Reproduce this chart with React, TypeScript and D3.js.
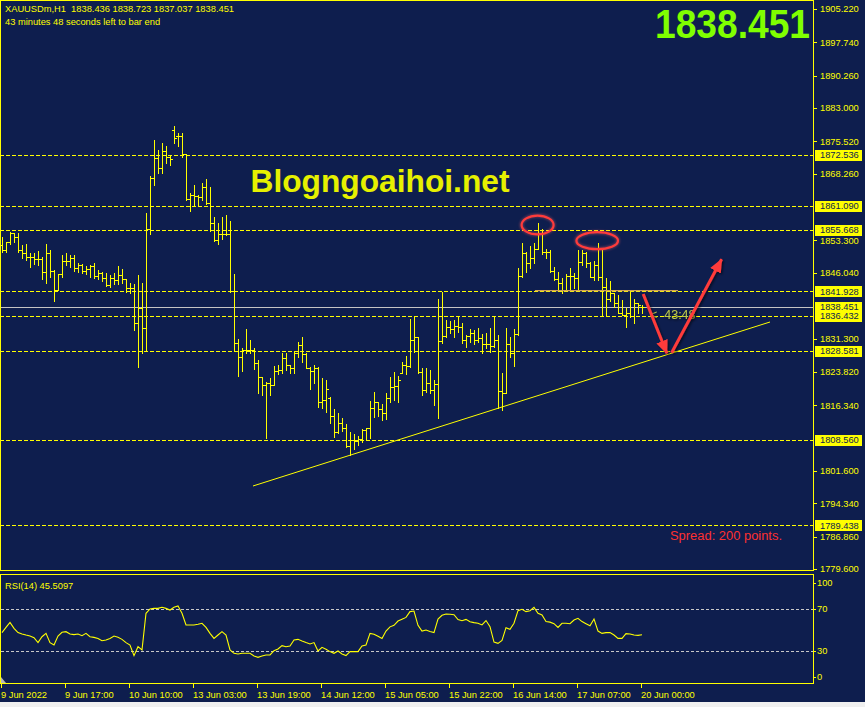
import React from "react";
import * as d3 from "d3";

// ---------- DATA ----------
const opens = [1852.3,1851.16,1852.88,1854.9,1854.0,1851.16,1850.41,1849.66,1849.5,1849.07,1849.07,1846.15,1850.41,1846.52,1842.19,1845.7,1848.69,1848.69,1849.29,1847.05,1847.79,1846.52,1846.82,1847.57,1845.33,1845.92,1844.8,1843.31,1844.8,1844.43,1845.55,1844.58,1842.71,1842.56,1834.71,1838.08,1833.59,1855.8,1867.24,1871.72,1869.63,1873.44,1871.95,1878.08,1876.8,1876.8,1872.62,1862.5,1863.5,1863.27,1863.12,1865.37,1861.63,1857.14,1853.4,1854.75,1854.75,1854.75,1842.04,1830.37,1827.23,1828.73,1828.73,1828.73,1825.74,1822.6,1820.88,1821.25,1820.88,1824.09,1824.24,1826.86,1825.37,1824.62,1827.98,1829.85,1827.83,1824.62,1824.09,1824.62,1817.14,1817.5,1818.0,1813.93,1810.4,1812.3,1811.2,1807.2,1808.55,1808.4,1808.7,1810.8,1811.16,1815.65,1817.14,1815.42,1814.53,1817.89,1820.36,1820.66,1823.6,1825.3,1825.15,1830.98,1831.72,1823.87,1819.76,1821.26,1819.76,1821.1,1830.83,1831.87,1833.97,1833.37,1834.12,1833.97,1830.98,1831.87,1832.62,1830.98,1831.35,1830.08,1830.08,1829.63,1831.0,1819.61,1819.0,1830.08,1827.99,1832.25,1845.33,1850.42,1848.3,1849.3,1851.31,1854.9,1850.79,1850.79,1846.53,1844.58,1843.69,1842.19,1845.33,1845.33,1844.81,1848.55,1850.42,1848.17,1845.18,1847.8,1845.03,1842.79,1840.1,1841.44,1839.2,1836.96,1836.58,1836.96,1836.36,1839.2,1838.436];
const highs = [1854.15,1853.03,1855.12,1854.9,1854.9,1852.28,1852.5,1850.56,1850.41,1850.94,1849.66,1852.5,1851.16,1846.67,1845.78,1850.04,1850.41,1850.04,1850.04,1848.32,1847.94,1847.65,1847.79,1848.17,1846.67,1846.3,1845.92,1845.55,1846.07,1847.65,1846.82,1844.58,1843.68,1843.53,1845.55,1843.83,1859.38,1867.76,1875.83,1873.59,1875.24,1874.49,1872.47,1878.97,1877.33,1877.33,1872.69,1863.87,1865.74,1863.5,1866.11,1867.0,1865.37,1858.64,1857.29,1858.64,1859.01,1857.67,1845.78,1831.12,1829.1,1833.36,1830.97,1829.25,1826.49,1822.6,1821.63,1822.37,1825.14,1825.37,1827.98,1828.13,1825.37,1828.35,1830.6,1831.72,1827.98,1824.99,1825.37,1824.99,1822.37,1822.0,1818.27,1815.42,1814.68,1813.4,1812.14,1810.4,1809.9,1809.4,1810.9,1811.16,1817.37,1819.4,1817.14,1816.62,1819.0,1822.75,1823.87,1822.9,1826.11,1827.39,1835.61,1836.36,1831.72,1824.62,1824.62,1824.25,1822.0,1840.1,1841.82,1835.46,1835.31,1835.46,1836.36,1834.86,1832.1,1833.37,1833.22,1833.6,1832.32,1832.47,1833.6,1836.21,1832.1,1823.5,1833.6,1831.72,1833.37,1847.05,1852.8,1850.79,1852.06,1852.66,1857.3,1855.8,1851.31,1851.16,1847.43,1846.3,1844.81,1845.78,1847.05,1845.93,1851.16,1851.16,1850.6,1848.55,1848.77,1852.81,1851.16,1844.81,1844.28,1841.44,1841.07,1839.95,1838.08,1841.82,1840.1,1839.35,1838.723];
const lows = [1850.79,1850.79,1852.43,1853.03,1850.79,1849.29,1848.91,1847.42,1848.02,1847.79,1844.58,1843.68,1845.17,1839.8,1842.19,1845.17,1847.79,1847.42,1846.52,1846.3,1846.07,1845.78,1845.17,1844.8,1844.58,1844.21,1843.16,1842.93,1843.53,1843.53,1843.83,1841.81,1841.59,1833.21,1824.99,1828.13,1828.73,1854.75,1865.74,1868.51,1868.51,1870.75,1870.23,1875.24,1874.49,1872.1,1862.37,1859.98,1861.03,1861.03,1862.37,1861.48,1855.5,1853.25,1852.5,1853.55,1854.6,1841.81,1828.73,1822.9,1824.09,1827.98,1827.98,1824.39,1819.16,1818.63,1808.92,1818.63,1820.88,1823.35,1823.5,1824.24,1823.65,1823.65,1827.08,1826.11,1824.62,1819.91,1821.25,1815.87,1815.65,1814.9,1812.43,1809.3,1810.2,1810.6,1807.05,1805.2,1806.45,1807.4,1808.17,1808.55,1808.92,1813.78,1813.93,1813.03,1813.18,1817.14,1817.52,1817.14,1823.5,1823.35,1824.99,1828.36,1823.5,1818.64,1819.39,1819.01,1816.4,1813.4,1830.38,1831.57,1832.47,1831.57,1832.85,1830.38,1829.48,1830.6,1830.08,1830.6,1828.13,1829.1,1828.36,1829.48,1815.65,1815.27,1819.0,1827.24,1825.15,1832.1,1845.18,1846.3,1847.05,1848.17,1851.3,1850.27,1849.3,1846.3,1844.43,1842.04,1841.44,1842.19,1842.04,1842.57,1842.19,1847.8,1847.43,1845.03,1844.43,1844.43,1836.58,1836.58,1839.8,1838.45,1836.96,1836.58,1833.82,1836.06,1834.71,1837.11,1837.037];
const closes = [1851.16,1852.88,1854.9,1854.0,1851.16,1850.41,1849.66,1849.5,1849.07,1849.07,1846.15,1850.41,1846.52,1842.19,1845.7,1848.69,1848.69,1849.29,1847.05,1847.79,1846.52,1846.82,1847.57,1845.33,1845.92,1844.8,1843.31,1844.8,1844.43,1845.55,1844.58,1842.71,1842.56,1834.71,1838.08,1833.59,1855.8,1867.24,1871.72,1869.63,1873.44,1871.95,1871.5,1876.21,1876.8,1872.62,1862.5,1863.5,1863.27,1863.12,1865.37,1861.63,1857.14,1853.4,1854.75,1854.75,1854.75,1842.04,1830.37,1827.23,1828.73,1828.73,1828.73,1825.74,1822.6,1820.88,1821.25,1820.88,1824.09,1824.24,1826.86,1825.37,1824.62,1827.98,1829.85,1827.83,1824.62,1824.09,1824.62,1817.14,1817.5,1819.91,1813.93,1810.4,1812.3,1811.2,1807.2,1808.55,1808.4,1808.7,1810.8,1811.16,1815.65,1817.14,1815.42,1814.53,1817.89,1820.36,1820.66,1822.0,1825.3,1825.15,1830.98,1831.72,1823.87,1819.76,1821.26,1819.76,1821.1,1830.83,1831.87,1833.97,1833.37,1834.12,1833.97,1830.98,1831.87,1832.62,1830.98,1831.35,1830.08,1830.08,1829.63,1831.0,1819.61,1819.0,1830.08,1827.99,1832.25,1845.33,1850.42,1848.3,1849.3,1851.31,1854.9,1850.79,1850.79,1846.53,1844.58,1843.69,1842.19,1845.33,1845.33,1844.81,1848.55,1850.42,1848.17,1845.18,1847.8,1845.03,1842.79,1840.1,1841.44,1839.2,1836.96,1836.58,1836.96,1836.36,1839.2,1838.83,1838.451];
const rsiValues = [47.5,52.5,57.3,51.6,47.5,46.2,45.2,44.3,42.7,38.0,43.6,46.8,38.0,35.7,44.3,47.8,48.4,46.2,45.6,46.2,44.6,46.8,43.6,43.0,42.0,39.8,40.5,42.0,44.3,43.0,41.1,38.0,35.7,25.6,34.1,30.95,65.9,70.0,70.6,70.6,71.6,70.6,69.0,71.6,72.9,66.0,54.8,54.8,54.8,55.4,56.4,52.5,46.8,42.0,45.2,48.4,45.2,30.95,27.8,27.1,27.8,27.8,27.8,25.2,24.0,25.2,26.2,26.2,30.3,31.9,35.1,34.1,34.8,40.5,41.1,39.5,38.0,36.7,38.0,30.0,33.5,31.6,29.4,27.8,30.0,27.1,25.6,29.4,29.4,29.4,34.8,35.7,46.8,46.0,44.0,42.0,49.0,53.0,54.5,58.5,60.3,62.0,67.5,68.1,54.5,49.0,50.0,48.5,47.5,60.5,64.0,65.2,65.0,64.6,60.0,58.9,60.1,57.9,57.0,56.5,54.8,59.0,53.2,38.5,37.3,40.0,52.2,50.6,56.4,68.4,69.7,67.5,68.4,71.5,66.0,64.3,58.0,57.5,56.0,52.5,56.4,56.4,56.0,59.5,61.1,58.0,56.0,54.1,60.5,49.0,46.8,47.5,47.5,45.2,42.0,42.0,46.5,46.2,45.2,44.9,45.5097];

const dateLabels = ["9 Jun 2022","9 Jun 17:00","10 Jun 10:00","13 Jun 03:00","13 Jun 19:00","14 Jun 12:00","15 Jun 05:00","15 Jun 22:00","16 Jun 14:00","17 Jun 07:00","20 Jun 00:00"];
const dateLabelBars = [0,16,32,48,64,80,96,112,128,144,160];
const priceTicks = [1905.22,1897.74,1890.26,1883.0,1875.52,1868.26,1853.3,1846.04,1831.3,1823.82,1816.34,1801.6,1794.34,1786.86,1779.6];
const levelPrices = [1872.536,1861.09,1855.668,1841.928,1836.432,1828.581,1808.56,1789.438];
const lastPrice = 1838.451;
const rsiLevels = [70,30];
const rsiTicks = [100,70,30,0];
const symbol = "XAUUSDm,H1";
const timerText = "43 minutes 48 seconds left to bar end";
const countdown = "43:48";
const spreadText = "Spread: 200 points.";
const watermark = "Blogngoaihoi.net";
// annotations in (bar index, price) coordinates
const trendLine = [{ bar: 62.75, price: 1798.22 }, { bar: 192, price: 1835.01 }];
const arrowDown = [{ bar: 160.3, price: 1841.29 }, { bar: 166.2, price: 1827.99 }];
const arrowUp = [{ bar: 167.4, price: 1828.12 }, { bar: 179.9, price: 1849.07 }];
const orangeLine = [{ bar: 133.25, price: 1842.03 }, { bar: 169, price: 1842.03 }];
const circles = [
  { bar: 133.9, price: 1856.77, barR: 4.0, priceR: 2.1 },
  { bar: 148.8, price: 1853.25, barR: 5.2, priceR: 1.9 },
];

const BG = "#0e1e4e";
const YEL = "#ffff00";
const FONT = "'Liberation Sans', Arial, sans-serif";

export default function App() {
  const n = closes.length;
  const xScale = d3.scaleLinear().domain([0, 160]).range([2, 642]);
  const yScale = d3.scaleLinear().domain([1905.22, 1779.6]).range([9, 569]);
  const rScale = d3.scaleLinear().domain([100, 0]).range([577.5, 682.5]);
  const px = (v: number) => Math.round(v) + 0.5;

  const barPath = d3.range(n).map((i) => {
    const cx = px(xScale(i));
    const yh = Math.round(yScale(highs[i]));
    const yl = Math.round(yScale(lows[i])) + 1;
    const yo = px(yScale(opens[i]));
    const yc = px(yScale(closes[i]));
    return `M${cx},${yh}V${yl}M${cx - 2.5},${yo}H${cx}M${cx},${yc}H${cx + 2.5}`;
  }).join("");

  const rsiLine = d3.line<number>().x((_, i) => xScale(i)).y((d) => rScale(d))(rsiValues) || "";
  const ptLine = d3.line<{ bar: number; price: number }>().x((d) => xScale(d.bar)).y((d) => yScale(d.price));

  const last = n - 1;
  const header = `${symbol}  ${opens[last].toFixed(3)} ${highs[last].toFixed(3)} ${lows[last].toFixed(3)} ${closes[last].toFixed(3)}`;
  const highlighted = [...levelPrices, lastPrice];

  return (
    <svg width={865} height={707} style={{ position: "absolute", left: 0, top: 0, display: "block" }} fontFamily={FONT}>
      <defs>
        <filter id="shadow" x="-30%" y="-30%" width="160%" height="160%">
          <feDropShadow dx="1.5" dy="1.5" stdDeviation="1.2" floodColor="#000" floodOpacity="0.55" />
        </filter>
        <filter id="glow" x="-30%" y="-50%" width="160%" height="200%">
          <feGaussianBlur stdDeviation="1" />
        </filter>
        <marker id="ah" markerUnits="userSpaceOnUse" markerWidth="16" markerHeight="14" refX="13" refY="7" orient="auto">
          <path d="M0,1 L14,7 L0,13 Z" fill="#ff3b3b" />
        </marker>
      </defs>
      <rect x={0} y={0} width={865} height={707} fill="#f0f0f0" />
      <rect x={0} y={0} width={865} height={702} fill={BG} />

      {/* level dashed lines */}
      {levelPrices.map((p) => (
        <line key={p} x1={0} x2={813} y1={px(yScale(p))} y2={px(yScale(p))} stroke={YEL} strokeDasharray="4,2" shapeRendering="crispEdges" />
      ))}
      {/* current price line */}
      <line x1={0} x2={813} y1={px(yScale(lastPrice))} y2={px(yScale(lastPrice))} stroke="#c4c4c4" shapeRendering="crispEdges" />

      {/* watermark */}
      <text x={250.5} y={191.5} fontSize={31.7} fontWeight="bold" fill="#e6f000" textLength={259} lengthAdjust="spacingAndGlyphs">{watermark}</text>

      {/* OHLC bars */}
      <path d={barPath} stroke={YEL} strokeWidth={1} fill="none" shapeRendering="crispEdges" />

      {/* trend line */}
      <path d={ptLine(trendLine) || ""} stroke={YEL} strokeWidth={1} fill="none" />
      {/* orange neckline */}
      <path d={ptLine(orangeLine) || ""} stroke="#b89a50" strokeWidth={3} opacity={0.45} filter="url(#glow)" fill="none" />
      <path d={ptLine(orangeLine) || ""} stroke="#d0a458" strokeWidth={1.3} fill="none" />

      {/* ellipses */}
      {circles.map((c, i) => {
        const cx = xScale(c.bar), cy = yScale(c.price);
        const rx = xScale(c.bar + c.barR) - cx, ry = yScale(c.price - c.priceR) - cy;
        return (
          <g key={i}>
            <ellipse cx={cx} cy={cy} rx={rx} ry={ry} fill="none" stroke="#ff6060" strokeWidth={4} opacity={0.35} filter="url(#glow)" />
            <ellipse cx={cx} cy={cy} rx={rx} ry={ry} fill="none" stroke="#ff3b3b" strokeWidth={2.2} />
          </g>
        );
      })}

      {/* countdown */}
      <text x={650} y={318.5} fontSize={12.5} fill="#bcc846" filter="url(#shadow)" style={{ whiteSpace: "pre" }}>{"<  " + countdown}</text>

      {/* arrows */}
      <g filter="url(#shadow)">
        <path d={ptLine(arrowDown) || ""} stroke="#ff3b3b" strokeWidth={3} fill="none" markerEnd="url(#ah)" />
        <path d={ptLine(arrowUp) || ""} stroke="#ff3b3b" strokeWidth={3} fill="none" markerEnd="url(#ah)" />
      </g>

      {/* spread */}
      <text x={670} y={540} fontSize={12} fill="#ff3030" textLength={112} lengthAdjust="spacingAndGlyphs">{spreadText}</text>

      {/* big price */}
      <text x={655} y={38} fontSize={40} fontWeight="bold" fill="#80ff00" textLength={155} lengthAdjust="spacingAndGlyphs">{lastPrice.toFixed(3)}</text>

      {/* header */}
      <text x={5} y={11.5} fontSize={9.3} fill={YEL} style={{ whiteSpace: "pre" }}>{header}</text>
      <text x={5} y={25} fontSize={9.3} fill={YEL}>{timerText}</text>

      {/* frames */}
      <rect x={0.5} y={0.5} width={813} height={570} fill="none" stroke={YEL} shapeRendering="crispEdges" />
      <rect x={0.5} y={574.5} width={813} height={109} fill="none" stroke={YEL} shapeRendering="crispEdges" />

      {/* price axis ticks */}
      {priceTicks.map((p) => (
        <g key={p}>
          <line x1={814} x2={817} y1={px(yScale(p))} y2={px(yScale(p))} stroke={YEL} shapeRendering="crispEdges" />
          <text x={820} y={yScale(p) + 3.4} fontSize={9.3} fill={YEL}>{p.toFixed(3)}</text>
        </g>
      ))}
      {highlighted.map((p) => (
        <g key={"h" + p}>
          <rect x={815} y={Math.round(yScale(p)) - 5} width={47} height={11} fill={YEL} />
          <text x={820} y={yScale(p) + 3.4} fontSize={9.3} fill={BG}>{p.toFixed(3)}</text>
        </g>
      ))}

      {/* RSI panel */}
      {rsiLevels.map((v) => (
        <line key={v} x1={1} x2={813} y1={px(rScale(v))} y2={px(rScale(v))} stroke="#c8c8c8" strokeDasharray="3,2" shapeRendering="crispEdges" />
      ))}
      <path d={rsiLine} stroke={YEL} strokeWidth={1.1} fill="none" />
      <text x={5} y={588.5} fontSize={9.3} fill={YEL}>{`RSI(14) ${rsiValues[last].toFixed(4)}`}</text>
      <polygon points="1,677 1,683 6,683" fill="#b8b8b8" />
      {rsiTicks.map((v) => {
        const ty = v === 100 ? rScale(v) + 5 : v === 0 ? rScale(v) - 5.5 : rScale(v);
        return (
          <g key={v}>
            <line x1={814} x2={816} y1={px(ty)} y2={px(ty)} stroke={YEL} shapeRendering="crispEdges" />
            <text x={817} y={ty + 3.4} fontSize={9.3} fill={YEL}>{v}</text>
          </g>
        );
      })}

      {/* date axis */}
      {dateLabelBars.map((b, i) => {
        const tx = Math.round(xScale(b));
        return (
          <g key={b}>
            <line x1={tx - 0.5} x2={tx - 0.5} y1={684} y2={688} stroke={YEL} shapeRendering="crispEdges" />
            <text x={tx - 1} y={697.5} fontSize={9.3} fill={YEL}>{dateLabels[i]}</text>
          </g>
        );
      })}
    </svg>
  );
}
